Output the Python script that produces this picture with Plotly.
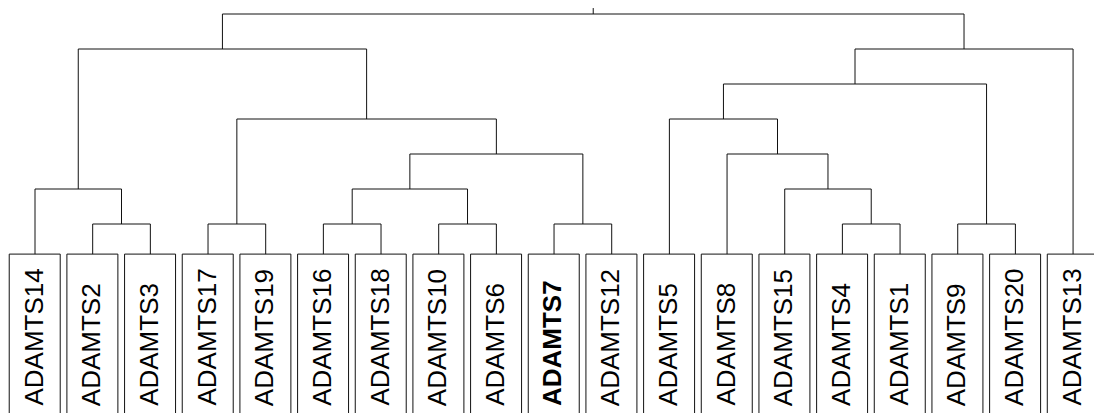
import plotly.graph_objects as go

# Leaf order along the bottom of the tree
labels = ["ADAMTS14", "ADAMTS2", "ADAMTS3", "ADAMTS17", "ADAMTS19",
          "ADAMTS16", "ADAMTS18", "ADAMTS10", "ADAMTS6", "ADAMTS7",
          "ADAMTS12", "ADAMTS5", "ADAMTS8", "ADAMTS15", "ADAMTS4",
          "ADAMTS1", "ADAMTS9", "ADAMTS20", "ADAMTS13"]
highlight = ["ADAMTS7"]

# Linkage: each merge joins two nodes (leaves are 0..18, new nodes numbered from 19)
merge_left = [1, 3, 5, 7, 9, 14, 16, 0, 21, 13, 27, 12, 20, 11, 32, 26, 33, 34]
merge_right = [2, 4, 6, 8, 10, 15, 17, 19, 22, 24, 23, 28, 29, 30, 25, 31, 18, 35]
merge_height = [1, 1, 1, 1, 1, 1, 1, 2, 2, 2, 3, 3, 4, 4, 5, 6, 6, 7]

n = len(labels)
BOX_TOP = 0.14      # leaf stems end at the top edge of the label boxes
BOX_BOTTOM = -6.0
LINE = "#111111"

node_x = {i: float(i) for i in range(n)}
node_h = {i: BOX_TOP for i in range(n)}

xs, ys = [], []
for k, (a, b, h) in enumerate(zip(merge_left, merge_right, merge_height)):
    xs += [node_x[a], node_x[a], node_x[b], node_x[b], None]
    ys += [node_h[a], h, h, node_h[b], None]
    node_x[n + k] = (node_x[a] + node_x[b]) / 2
    node_h[n + k] = h

# short stub above the root
root = n + len(merge_height) - 1
xs += [node_x[root], node_x[root], None]
ys += [node_h[root], node_h[root] + 0.17, None]

fig = go.Figure()
fig.add_trace(go.Scatter(x=xs, y=ys, mode="lines",
                         line=dict(color=LINE, width=1),
                         hoverinfo="skip", showlegend=False))

for i, lab in enumerate(labels):
    fig.add_shape(type="rect", xref="x", yref="y",
                  x0=i - 0.447, x1=i + 0.437, y0=BOX_BOTTOM, y1=BOX_TOP,
                  line=dict(color=LINE, width=1), fillcolor="rgba(0,0,0,0)")
    text = f"<b>{lab}</b>" if lab in highlight else lab
    fig.add_annotation(x=i, y=-4.2, text=text, showarrow=False,
                       textangle=-90, xanchor="center", yanchor="bottom",
                       xshift=-2, yshift=-2,
                       font=dict(family="Liberation Sans, Arial, sans-serif",
                                 size=26, color="#000000"))

fig.update_layout(
    width=1094, height=413,
    margin=dict(l=0, r=0, t=0, b=0),
    paper_bgcolor="white", plot_bgcolor="white",
    xaxis=dict(range=[-0.607, 18.363], visible=False, fixedrange=True),
    yaxis=dict(range=[-4.4, 7.4], visible=False, fixedrange=True),
    showlegend=False,
)

fig.write_html("out.html")
